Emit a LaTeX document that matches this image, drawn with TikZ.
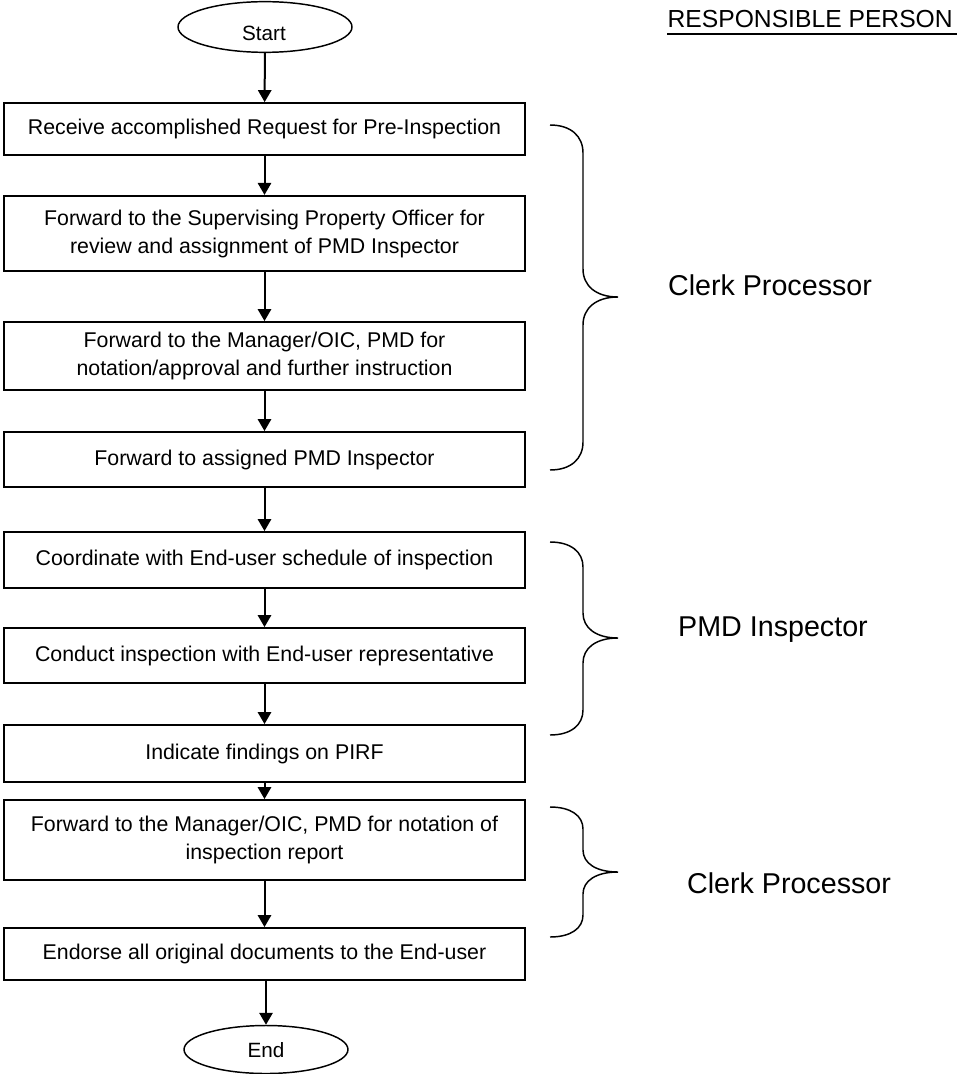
\documentclass[tikz,border=0pt]{standalone}
\usepackage{fontspec}
\setmainfont{Liberation Sans}
\usetikzlibrary{arrows.meta,shapes.geometric}
\newcommand\mybrace[4]{%
  \draw[bracestyle] (550,#1) .. controls (571,#1) and (583,{#1+#4*0.4}) .. (583,{#1+#4})
    -- (583,{#2-#4}) .. controls (583,{#2-#4*0.4}) and (596,#2) .. (618,#2)
    .. controls (596,#2) and (583,{#2+#4*0.4}) .. (583,{#2+#4})
    -- (583,{#3-#4}) .. controls (583,{#3-#4*0.4}) and (571,#3) .. (550,#3);}
\begin{document}
\begin{tikzpicture}[x=0.75pt,y=-0.75pt,
  stepbox/.style={draw, line width=1.4pt, minimum width=390.75pt, inner sep=0pt,
    align=center, font=\fontsize{16}{21}\selectfont},
  term/.style={draw, ellipse, line width=1.1pt, inner sep=0pt},
  termtext/.style={inner sep=0pt, font=\fontsize{15.5}{18}\selectfont},
  arr/.style={line width=1.5pt, -{Triangle[width=10pt,length=9pt]}},
  bracestyle/.style={line width=1.1pt},
  who/.style={font=\fontsize{21.5}{26}\selectfont}]
\useasboundingbox (0,0) rectangle (958,1074);

\node[term, minimum width=130.5pt, minimum height=38pt] (s) at (265,27) {};
\node[termtext] (st) at (264,33) {Start};
\node[stepbox, minimum height=39pt] (b1) at (264.5,129) {Receive accomplished Request for Pre-Inspection};
\node[stepbox, minimum height=56.5pt] (b2) at (264.5,233.5) {Forward to the Supervising Property Officer for\\review and assignment of PMD Inspector};
\node[stepbox, minimum height=51pt] (b3) at (264.5,356) {Forward to the Manager/OIC, PMD for\\notation/approval and further instruction};
\node[stepbox, minimum height=41.25pt] (b4) at (264.5,459.5) {Forward to assigned PMD Inspector};
\node[stepbox, minimum height=42pt] (b5) at (264.5,560) {Coordinate with End-user schedule of inspection};
\node[stepbox, minimum height=41.25pt] (b6) at (264.5,655.5) {Conduct inspection with End-user representative};
\node[stepbox, minimum height=42.75pt] (b7) at (264.5,753.5) {Indicate findings on PIRF};
\node[stepbox, minimum height=60pt] (b8) at (264.5,840) {Forward to the Manager/OIC, PMD for notation of\\inspection report};
\node[stepbox, minimum height=39pt] (b9) at (264.5,954) {Endorse all original documents to the End-user};
\node[term, minimum width=123pt, minimum height=36pt] (e) at (266,1049.5) {};
\node[termtext] (et) at (266,1050) {End};

\draw[arr] (s) -- (b1);
\draw[arr] (b1) -- (b2);
\draw[arr] (b2) -- (b3);
\draw[arr] (b3) -- (b4);
\draw[arr] (b4) -- (b5);
\draw[arr] (b5) -- (b6);
\draw[arr] (b6) -- (b7);
\draw[arr] (b7) -- (b8);
\draw[arr] (b8) -- (b9);
\draw[arr] (b9.south -| e.north) -- (e.north);

\node[anchor=base east, inner sep=0pt, font=\fontsize{18.5}{22}\selectfont] (title) at (953,28) {RESPONSIBLE PERSON};
\draw[line width=1.6pt] ([yshift=-4.5pt]title.base west) -- ([yshift=-4.5pt,xshift=3pt]title.base east);

\mybrace{125}{297}{470}{28}
\mybrace{542}{638}{735}{25}
\mybrace{807}{872}{937}{22}

\node[who] (w1) at (770,285) {Clerk Processor};
\node[who] (w2) at (773,630) {PMD Inspector};
\node[who] (w3) at (789,883) {Clerk Processor};
\end{tikzpicture}
\end{document}
